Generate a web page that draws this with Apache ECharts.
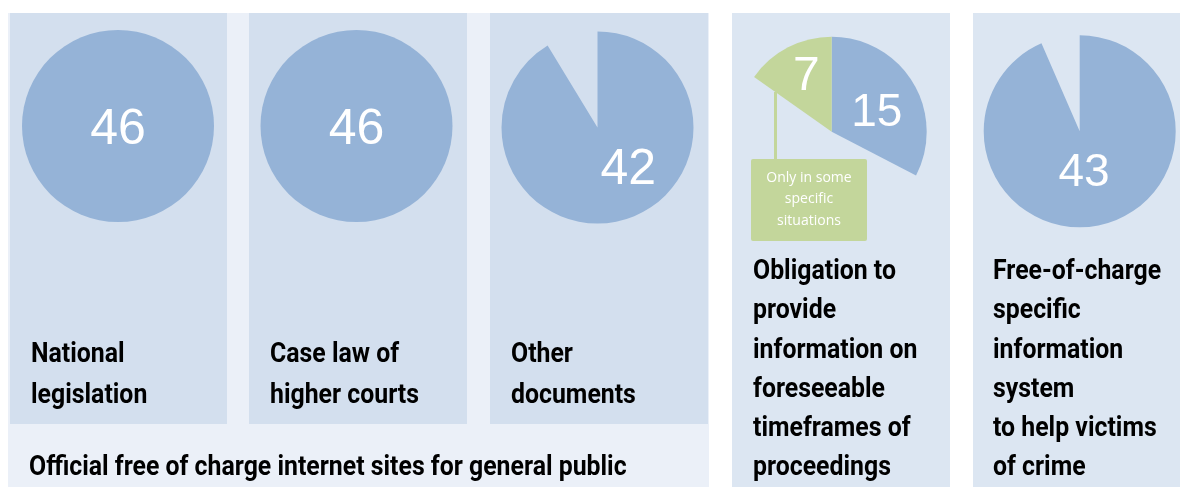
<!DOCTYPE html>
<html>
<head>
<meta charset="utf-8">
<script src="https://cdn.jsdelivr.net/npm/echarts@6/dist/echarts.min.js"></script>
<style>
  html, body { margin: 0; padding: 0; background: #fff; }
  #main { width: 1180px; height: 487px; }
</style>
</head>
<body>
<div id="main"></div>
<script>
// data
var total = 46;
var panelNames = ['National legislation', 'Case law of higher courts', 'Other documents',
  'Obligation to provide information on foreseeable timeframes of proceedings',
  'Free-of-charge specific information system to help victims of crime'];
var panelLines = [
  'National\nlegislation',
  'Case law of\nhigher courts',
  'Other\ndocuments',
  'Obligation to\nprovide\ninformation on\nforeseeable\ntimeframes of\nproceedings',
  'Free-of-charge\nspecific\ninformation\nsystem\nto help victims\nof crime'
];
var yesValues = [46, 46, 42, 15, 43];
var someValues = [0, 0, 0, 7, 0];
var groupTitle = 'Official free of charge internet sites for general public';
var someLabel = 'Only in some\nspecific\nsituations';

// layout
var pieCenters = [[118, 126], [356.5, 126], [597.5, 127.5], [831.7, 131.7], [1079.7, 131.3]];
var pieRadius = [96, 96, 96, 95, 96];
var labelOffsets = [[0, 4], [0, 4], [17, -6], [2, 8], [-6, -8]];
var BLUE = '#95b3d7', GREEN = '#c3d69b';

var myChart = echarts.init(document.getElementById('main'));

var series = [];
yesValues.forEach(function (v, i) {
  var rest = total - v - someValues[i];
  var full = v === total;
  series.push({
    name: panelNames[i],
    type: 'pie',
    center: pieCenters[i],
    radius: [0, pieRadius[i]],
    startAngle: 90,
    clockwise: true,
    silent: true,
    animation: false,
    stillShowZeroSum: true,
    avoidLabelOverlap: false,
    itemStyle: { borderWidth: 0 },
    labelLine: { show: false },
    data: [
      {
        value: v,
        itemStyle: { color: BLUE },
        label: {
          show: true,
          position: full ? 'center' : 'inside',
          offset: labelOffsets[i],
          color: '#fff',
          fontFamily: 'Liberation Sans, Arial, sans-serif',
          fontSize: i >= 3 ? 46 : 50,
          formatter: '{c}'
        }
      },
      { value: rest, itemStyle: { color: 'rgba(0,0,0,0)' }, label: { show: false } },
      {
        value: someValues[i],
        itemStyle: { color: GREEN },
        label: {
          show: someValues[i] > 0,
          position: 'inside',
          offset: [-2, -10],
          color: '#fff',
          fontFamily: 'Liberation Sans, Arial, sans-serif',
          fontSize: 48,
          formatter: '{c}'
        }
      }
    ]
  });
});

// condensed heavy look: Roboto bold squeezed horizontally
var catStyle = { fill: '#000', verticalAlign: 'top', fontFamily: 'Roboto', fontWeight: 'bold', fontSize: 27 };
var SQUEEZE = 0.92;
function catText(x, y, text, lh) {
  return { type: 'text', z: 6, x: x, y: y, scaleX: SQUEEZE, style: Object.assign({ text: text, lineHeight: lh }, catStyle) };
}

var graphics = [
  // background panels
  { type: 'rect', z: -10, shape: { x: 8, y: 13, width: 701, height: 474 }, style: { fill: '#ebf0f8' } },
  { type: 'rect', z: -9, shape: { x: 10, y: 13, width: 217, height: 411 }, style: { fill: '#d3dfee' } },
  { type: 'rect', z: -9, shape: { x: 249, y: 13, width: 218, height: 411 }, style: { fill: '#d3dfee' } },
  { type: 'rect', z: -9, shape: { x: 490, y: 13, width: 218, height: 411 }, style: { fill: '#d3dfee' } },
  { type: 'rect', z: -9, shape: { x: 732, y: 13, width: 218, height: 474 }, style: { fill: '#dce6f2' } },
  { type: 'rect', z: -9, shape: { x: 973, y: 13, width: 207, height: 474 }, style: { fill: '#dce6f2' } },
  // callout for the green slice
  { type: 'rect', z: 5, shape: { x: 774, y: 92, width: 3, height: 68 }, style: { fill: GREEN } },
  { type: 'rect', z: 5, shape: { x: 751, y: 159, width: 116, height: 82, r: 2 }, style: { fill: GREEN } },
  { type: 'text', z: 6, x: 809, y: 167, style: {
      text: someLabel, fill: '#fff', align: 'center', verticalAlign: 'top',
      fontFamily: 'Open Sans', fontSize: 14, lineHeight: 21.5 } },
  // bottom group title
  catText(29, 448, groupTitle, 40)
];
var textX = [31, 270, 511, 753, 993];
var textY = [335, 335, 335, 252.5, 252.5];
var textLH = [41, 41, 41, 39.3, 39.3];
panelLines.forEach(function (t, i) {
  graphics.push(catText(textX[i], textY[i], t, textLH[i]));
});

option = {
  backgroundColor: '#fff',
  animation: false,
  graphic: graphics,
  series: series
};
myChart.setOption(option);
window.onresize = myChart.resize;
</script>
</body>
</html>
